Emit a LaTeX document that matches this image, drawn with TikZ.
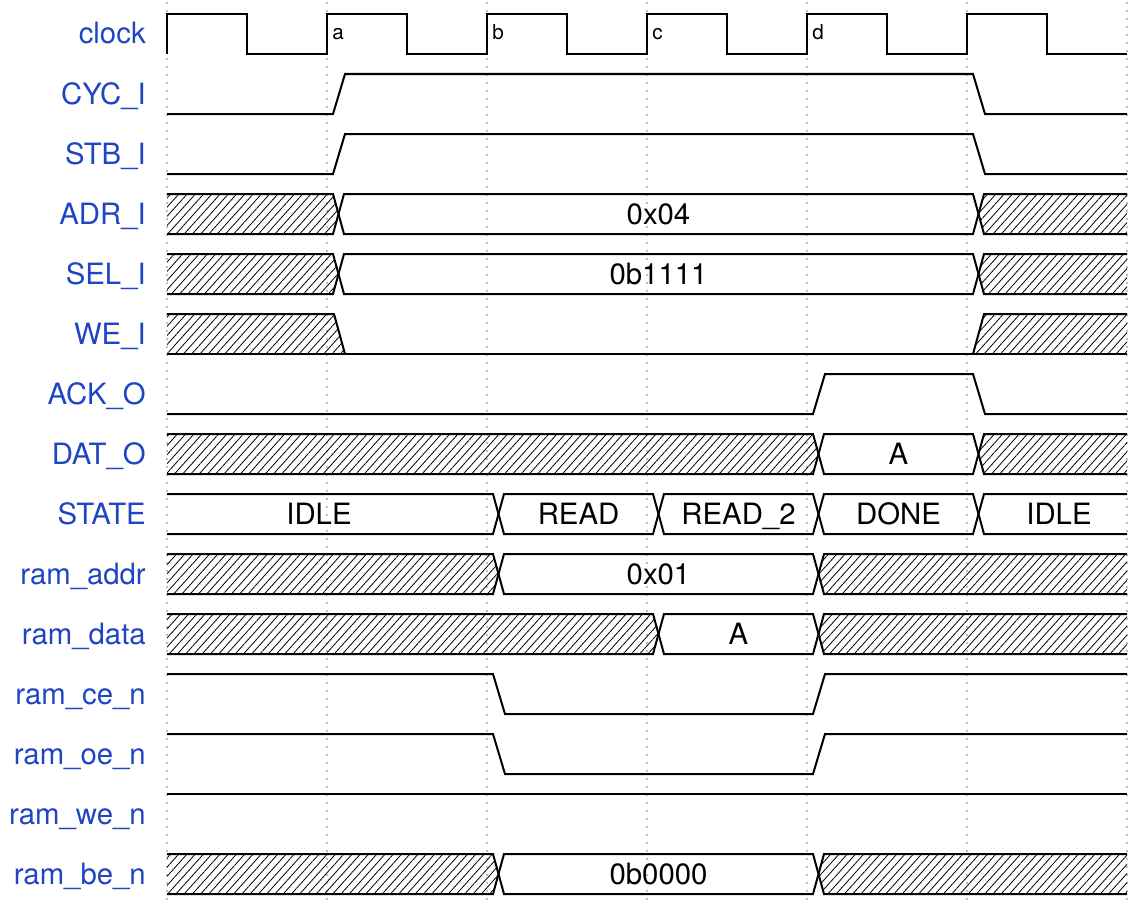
\documentclass[tikz,border=0pt]{standalone}
\usepackage{fontspec}
\setmainfont{TeX Gyre Heros}
\usepackage{xcolor}
\usepackage{tikz}
\usetikzlibrary{patterns.meta}
\definecolor{sigblue}{HTML}{1F44C4}
\definecolor{gridgray}{HTML}{BDBDBD}
\newcommand{\sigfont}{\fontsize{22}{26}\selectfont}
\newcommand{\clkfont}{\fontsize{15.5}{18}\selectfont}
% one bus value between two crossings, on row #1
\newcommand{\busshape}[3]{%
  \draw[wave] ({#2},{34+60*#1}) -- ({#2+5.5},{14+60*#1}) -- ({#3-5.5},{14+60*#1})
    -- ({#3},{34+60*#1}) -- ({#3-5.5},{54+60*#1}) -- ({#2+5.5},{54+60*#1}) -- cycle;}
\newcommand{\dontcare}[3]{%
  \draw[wave,hatched] ({#2},{34+60*#1}) -- ({#2+5.5},{14+60*#1}) -- ({#3-5.5},{14+60*#1})
    -- ({#3},{34+60*#1}) -- ({#3-5.5},{54+60*#1}) -- ({#2+5.5},{54+60*#1}) -- cycle;}
\tikzset{
  wave/.style={line width=1.5pt, line join=miter, black},
  hatched/.style={pattern={Lines[angle=48,distance=4.6pt,line width=0.6pt]}},
  gridline/.style={gridgray, line width=1.5pt, dash pattern=on 1.5pt off 4.5pt},
  siglabel/.style={anchor=base east, inner sep=0pt, text=sigblue, font=\sigfont},
  busvalue/.style={anchor=base, inner sep=0pt, font=\sigfont},
  clkmark/.style={anchor=base west, inner sep=0pt, font=\clkfont},
}
\begin{document}
\begin{tikzpicture}[x=0.75pt, y=-0.75pt]
  \useasboundingbox (0,0) rectangle (1144,906);
  \foreach \e in {167,327,...,1127}
    \draw[gridline] (\e,2) -- (\e,904);
  \foreach \lab [count=\k from 0] in {clock, CYC\_I, STB\_I, ADR\_I, SEL\_I, WE\_I, ACK\_O, DAT\_O,
      STATE, ram\_addr, ram\_data, ram\_ce\_n, ram\_oe\_n, ram\_we\_n, ram\_be\_n}
    \node[siglabel] (lab\k) at (146,{44+60*\k}) {\lab};
  \draw[wave] (167,54) \foreach \e in {167,327,...,967} {
    -- (\e,14) -- ({\e+80},14) -- ({\e+80},54) -- ({\e+160},54) };
  \foreach \e/\m in {327/a,487/b,647/c,807/d}
    \node[clkmark] (clk-\m) at ({\e+5},40) {\m};
  \begin{scope}
    \clip (167,0) rectangle (1127,906);
    \draw[wave] (167,114) -- (333,114) -- (345,74) -- (973,74) -- (985,114) -- (1127,114);
    \draw[wave] (167,174) -- (333,174) -- (345,134) -- (973,134) -- (985,174) -- (1127,174);
    \dontcare{3}{150}{338.5} \busshape{3}{338.5}{978.5} \dontcare{3}{978.5}{1145}
    \dontcare{4}{150}{338.5} \busshape{4}{338.5}{978.5} \dontcare{4}{978.5}{1145}
    \fill[hatched] (160,314) -- (334,314) -- (345,354) -- (160,354) -- cycle;
    \fill[hatched] (973,354) -- (984,314) -- (1140,314) -- (1140,354) -- cycle;
    \draw[wave] (167,314) -- (334,314) -- (345,354);
    \draw[wave] (973,354) -- (984,314) -- (1127,314);
    \draw[wave] (167,354) -- (1127,354);
    \draw[wave] (167,414) -- (813,414) -- (825,374) -- (973,374) -- (985,414) -- (1127,414);
    \dontcare{7}{150}{818.5} \busshape{7}{818.5}{978.5} \dontcare{7}{978.5}{1145}
    \busshape{8}{150}{498.5} \busshape{8}{498.5}{658.5} \busshape{8}{658.5}{818.5}
    \busshape{8}{818.5}{978.5} \busshape{8}{978.5}{1145}
    \dontcare{9}{150}{498.5} \busshape{9}{498.5}{818.5} \dontcare{9}{818.5}{1145}
    \dontcare{10}{150}{658.5} \busshape{10}{658.5}{818.5} \dontcare{10}{818.5}{1145}
    \draw[wave] (167,674) -- (493,674) -- (505,714) -- (813,714) -- (825,674) -- (1127,674);
    \draw[wave] (167,734) -- (493,734) -- (505,774) -- (813,774) -- (825,734) -- (1127,734);
    \draw[wave] (167,794) -- (1127,794);
    \dontcare{14}{150}{498.5} \busshape{14}{498.5}{818.5} \dontcare{14}{818.5}{1145}
  \end{scope}
  \node[busvalue] (adr) at (658.5,224) {0x04};
  \node[busvalue] (sel) at (658.5,284) {0b1111};
  \node[busvalue] (dat) at (898.5,464) {A};
  \node[busvalue] (idle1) at (319,524) {IDLE};
  \node[busvalue] (read) at (578.5,524) {READ};
  \node[busvalue] (read2) at (738.5,524) {READ\_2};
  \node[busvalue] (done) at (898.5,524) {DONE};
  \node[busvalue] (idle2) at (1059,524) {IDLE};
  \node[busvalue] (raddr) at (658.5,584) {0x01};
  \node[busvalue] (rdata) at (738.5,644) {A};
  \node[busvalue] (rbe) at (658.5,884) {0b0000};
\end{tikzpicture}
\end{document}
